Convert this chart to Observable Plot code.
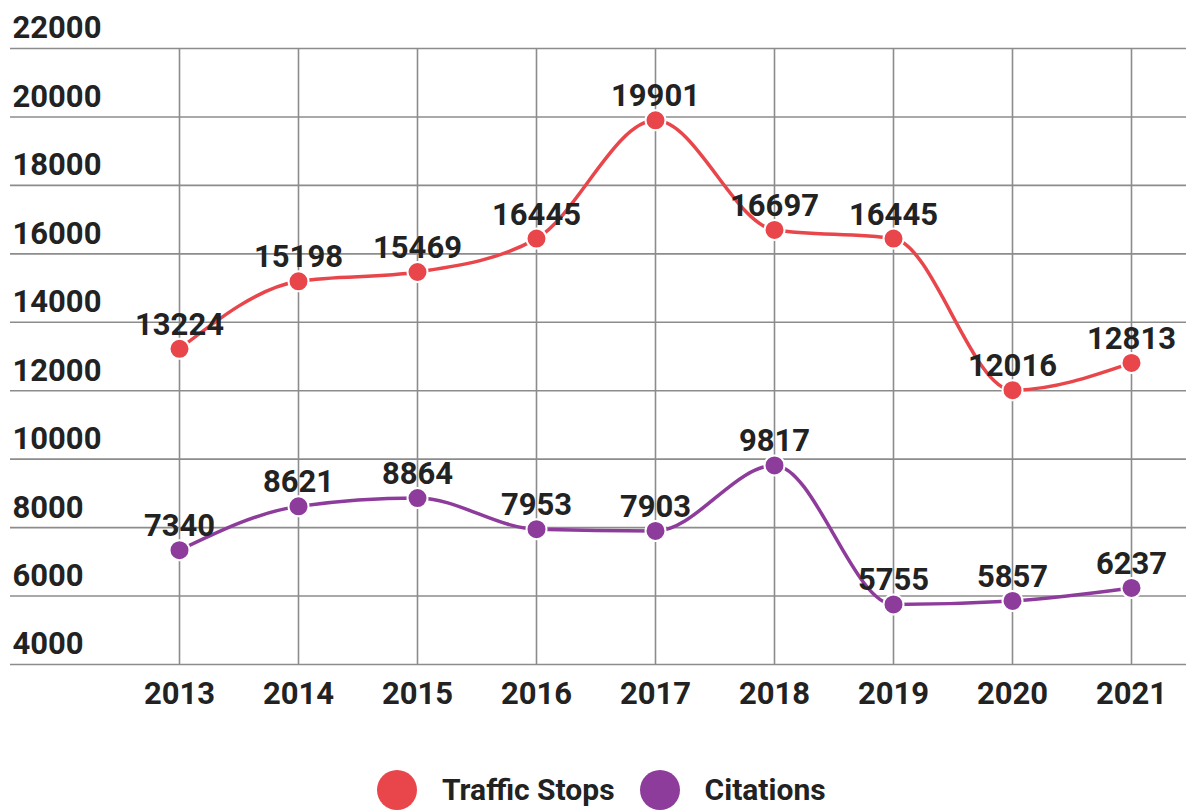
<!DOCTYPE html>
<html>
<head>
<meta charset="utf-8">
<script src="https://cdn.jsdelivr.net/npm/d3@7"></script>
<script src="https://cdn.jsdelivr.net/npm/@observablehq/plot@0.6"></script>
<style>
  html, body { margin: 0; padding: 0; background: #fff; overflow: hidden; }
  #chart svg { display: block; }
  .legend { display: flex; align-items: center; height: 40px; margin-top: 30px; padding-left: 377px;
            font-family: Roboto, sans-serif; font-weight: bold; font-size: 30px; color: #222; line-height: 1; }
  .sw { width: 40px; height: 40px; border-radius: 50%; margin-right: 25px; }
  .item { display: flex; align-items: center; margin-right: 25px; }
</style>
</head>
<body>
<div id="chart"></div>
<div class="legend" id="legend"></div>
<script>
const years = [2013, 2014, 2015, 2016, 2017, 2018, 2019, 2020, 2021];
const trafficStops = [13224, 15198, 15469, 16445, 19901, 16697, 16445, 12016, 12813];
const citations = [7340, 8621, 8864, 7953, 7903, 9817, 5755, 5857, 6237];
const yTicks = [4000, 6000, 8000, 10000, 12000, 14000, 16000, 18000, 20000, 22000];
const seriesNames = ["Traffic Stops", "Citations"];
const seriesColors = ["#e8464b", "#8e3c9b"];

const data = years.flatMap((yr, i) => [
  {year: yr, value: trafficStops[i], series: seriesNames[0]},
  {year: yr, value: citations[i], series: seriesNames[1]}
]);

const chart = Plot.plot({
  width: 1186,
  height: 740,
  marginLeft: 10,
  marginRight: 0,
  marginTop: 48,
  marginBottom: 76,
  x: {type: "point", domain: years, range: [176, 1133], padding: 0, axis: null},
  y: {domain: [4000, 22000], axis: null},
  color: {domain: seriesNames, range: seriesColors},
  style: {fontFamily: "Roboto, sans-serif", background: "white"},
  marks: [
    Plot.ruleY(yTicks, {stroke: "#8c8c8c", strokeWidth: 1.6}),
    Plot.ruleX(years, {x: d => d, y1: 4000, y2: 22000, stroke: "#8c8c8c", strokeWidth: 1.6}),
    Plot.text(yTicks, {frameAnchor: "left", y: d => d, text: d => String(d), textAnchor: "start",
      dx: 2, dy: -20, fontSize: 31, fontWeight: "bold", fill: "#222"}),
    Plot.text(years, {x: d => d, frameAnchor: "bottom", text: d => String(d), dy: 39,
      fontSize: 31, fontWeight: "bold", fill: "#222"}),
    Plot.line(data, {x: "year", y: "value", stroke: "series", z: "series", curve: "monotone-x", strokeWidth: 3.5}),
    Plot.dot(data, {x: "year", y: "value", fill: "series", r: 10, stroke: "white", strokeWidth: 2}),
    Plot.text(data, {x: "year", y: "value", text: d => String(d.value), dy: -24,
      fontSize: 31, fontWeight: "bold", fill: "#222"})
  ]
});
document.getElementById("chart").appendChild(chart);

const legend = document.getElementById("legend");
seriesNames.forEach((name, i) => {
  const item = document.createElement("div");
  item.className = "item";
  const sw = document.createElement("div");
  sw.className = "sw";
  sw.style.background = seriesColors[i];
  const label = document.createElement("span");
  label.textContent = name;
  item.appendChild(sw);
  item.appendChild(label);
  legend.appendChild(item);
});
</script>
</body>
</html>
